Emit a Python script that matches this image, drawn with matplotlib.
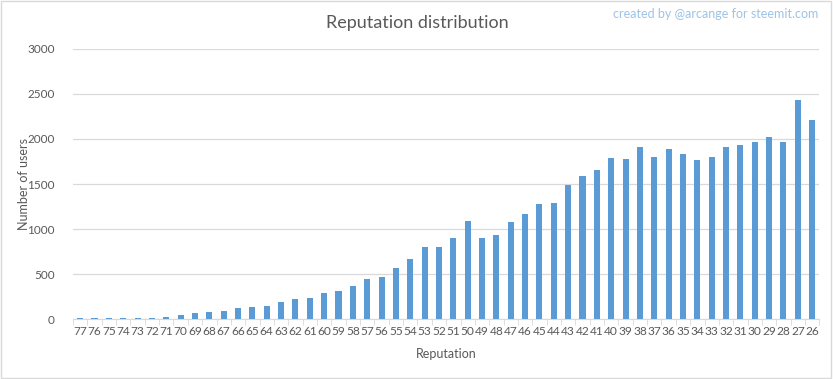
import matplotlib
matplotlib.use('Agg')
import matplotlib.pyplot as plt
import numpy as np

# --- Data ---
reputation = [str(r) for r in range(77, 25, -1)]
users = [15, 15, 15, 15, 15, 15, 26, 48, 73, 81, 92, 125, 137, 148, 185, 226,
         237, 292, 315, 370, 448, 463, 570, 670, 803, 803, 903, 1092, 903, 937,
         1081, 1170, 1281, 1290, 1489, 1589, 1656, 1789, 1778, 1911, 1800, 1889,
         1833, 1767, 1800, 1911, 1933, 1967, 2022, 1967, 2433, 2211]

BAR_COLOR = '#5B9BD5'
TEXT_COLOR = '#595959'
GRID_COLOR = '#D9D9D9'

plt.rcParams['font.family'] = ['Lato', 'DejaVu Sans']

fig = plt.figure(figsize=(8.33, 3.79), dpi=100)
ax = fig.add_axes([0.0876, 0.158, 0.896, 0.713])

x = np.arange(len(users))
ax.bar(x, users, width=0.42, color=BAR_COLOR, zorder=3)

ax.set_xlim(-0.5, len(users) - 0.5)
ax.set_ylim(0, 3000)
ax.set_yticks(np.arange(0, 3001, 500))
ax.set_xticks(x)
ax.set_xticklabels(reputation)
ax.set_xticks(np.arange(-0.5, len(users), 1), minor=True)
ax.tick_params(axis='x', which='major', length=0, pad=5, labelsize=8.6, labelcolor=TEXT_COLOR)
ax.tick_params(axis='x', which='minor', length=4, color=GRID_COLOR)
ax.tick_params(axis='y', length=0, pad=13, labelsize=8.5, labelcolor=TEXT_COLOR)

ax.grid(axis='y', color=GRID_COLOR, linewidth=0.9, zorder=0)
for side in ['top', 'right', 'left']:
    ax.spines[side].set_visible(False)
ax.spines['bottom'].set_color(GRID_COLOR)

ax.set_xlabel("Reputation", fontsize=9, color=TEXT_COLOR, labelpad=8)
ax.set_ylabel("Number of users", fontsize=9, color=TEXT_COLOR)
ax.yaxis.set_label_coords(-0.058, 0.5)

fig.text(0.501, 0.94, "Reputation distribution", ha='center', va='center',
         fontsize=13, color=TEXT_COLOR)
fig.text(0.982, 0.962, "created by @arcange for steemit.com", ha='right', va='center',
         fontsize=9, color='#9DC3E6')

# light border round the figure
fig.patches.append(plt.Rectangle((0.001, 0.002), 0.997, 0.995, transform=fig.transFigure,
                                 fill=False, edgecolor='#D9D9D9', linewidth=1))

fig.savefig("out.png", dpi=100)
